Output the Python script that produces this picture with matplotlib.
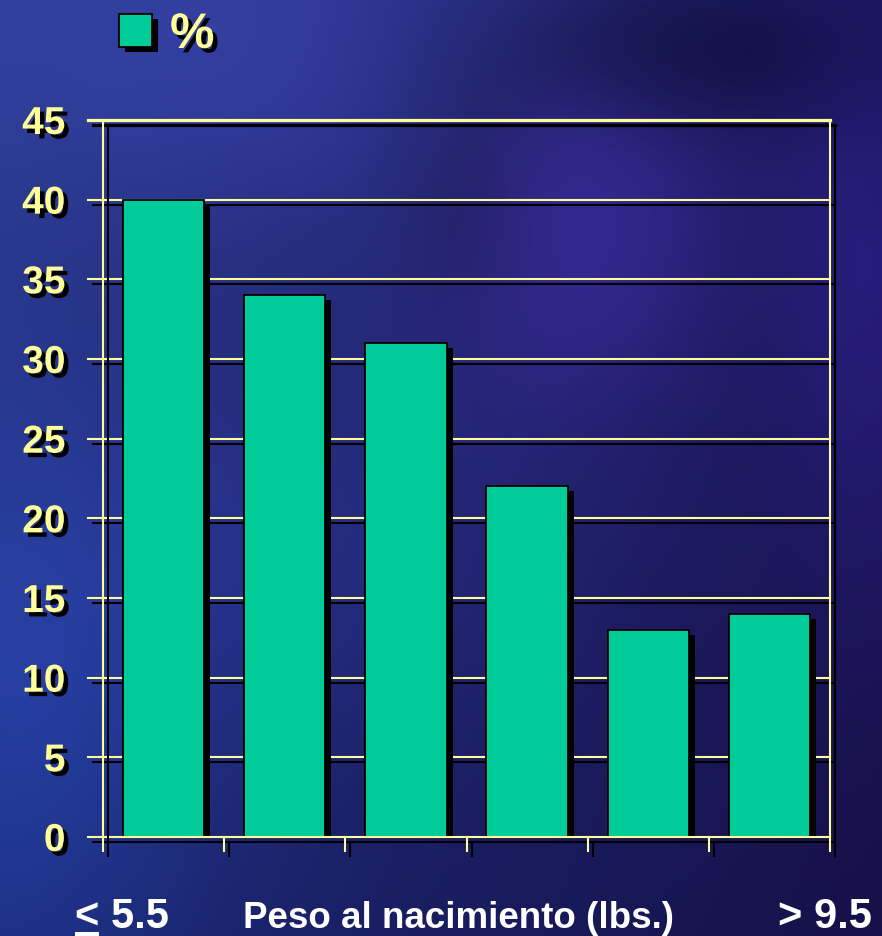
import numpy as np
import matplotlib
matplotlib.use("Agg")
import matplotlib.pyplot as plt
import matplotlib.patheffects as pe
from matplotlib.patches import Rectangle

# ---- data -------------------------------------------------------------
first_label = "< 5.5"
last_label = "> 9.5"
axis_title = "Peso al nacimiento (lbs.)"
series_name = "%"
values = [40, 34, 31, 22, 13, 14]
yticks = [0, 5, 10, 15, 20, 25, 30, 35, 40, 45]

# ---- style ------------------------------------------------------------
BAR = "#00CC99"
YEL = "#FFFF99"
FONT = "Liberation Sans"
W, H = 882, 936
DPI = 100

fig = plt.figure(figsize=(W / DPI, H / DPI), dpi=DPI)

# soft blue/purple backdrop
yy, xx = np.mgrid[0:H, 0:W].astype(float)
u, v = xx / W, yy / H
tl = np.array([44, 58, 142]); tr = np.array([30, 24, 98])
bl = np.array([28, 42, 118]); br = np.array([22, 16, 72])
img = ((1 - u)[..., None] * (1 - v)[..., None] * tl + u[..., None] * (1 - v)[..., None] * tr
       + (1 - u)[..., None] * v[..., None] * bl + u[..., None] * v[..., None] * br)
blobs = [
    (280, 40, 220, 120, (12, 14, 32)),
    (660, 50, 160, 60, (-16, -14, -40)),
    (570, 240, 100, 120, (20, 8, 38)),
    (470, 190, 60, 90, (-10, -10, -30)),
    (30, 700, 120, 200, (4, 16, 34)),
    (870, 300, 60, 200, (10, 6, 30)),
    (300, 560, 200, 120, (6, 6, 16)),
]
for cx, cy, sx, sy, d in blobs:
    g = np.exp(-((xx - cx) ** 2 / (2 * sx ** 2) + (yy - cy) ** 2 / (2 * sy ** 2)))
    img = img + g[..., None] * np.array(d)
img = np.clip(img, 0, 255) / 255.0
bg = fig.add_axes([0, 0, 1, 1], zorder=-10)
bg.imshow(img, aspect="auto", interpolation="bilinear")
bg.axis("off")

# ---- main axes --------------------------------------------------------
L, R, T, B = 103, 830, 120, 837
ax = fig.add_axes([L / W, 1 - B / H, (R - L) / W, (B - T) / H])
ax.patch.set_alpha(0)
for s in ax.spines.values():
    s.set_visible(False)

n = len(values)
ax.set_xlim(0, n)
ax.set_ylim(0, 45)

line_shadow = [pe.SimpleLineShadow(offset=(3.6, -3.6), shadow_color="black", alpha=1.0), pe.Normal()]
patch_shadow = [pe.SimplePatchShadow(offset=(4.4, -3.6), shadow_rgbFace="black", alpha=1.0), pe.Normal()]
text_shadow = [pe.SimplePatchShadow(offset=(3.2, -3.2), shadow_rgbFace="black", alpha=1.0), pe.Normal()]

tick_len_x = 15 / (R - L)
tick_len_y = 14 / (B - T)

# horizontal gridlines with outward tick stubs
for yv in yticks:
    lw = 2.3 if yv == yticks[-1] else 1.5
    z = 3 if yv == 0 else 1
    ln = ax.axhline(yv, xmin=-tick_len_x, xmax=1, color=YEL, lw=lw, clip_on=False, zorder=z)
    ln.set_path_effects(line_shadow)

# frame sides and category ticks
for xv in range(n + 1):
    ymax = 1 if xv in (0, n) else 0
    ln = ax.axvline(xv, ymin=-tick_len_y, ymax=ymax, color=YEL, lw=1.5, clip_on=False, zorder=3)
    ln.set_path_effects(line_shadow)

# bars
x = np.arange(n) + 0.5
bars = ax.bar(x, values, width=0.67, color=BAR, edgecolor="black", linewidth=1.3,
              zorder=2, label=series_name)
for b in bars:
    b.set_path_effects(patch_shadow)

ax.set_xticks([])
ax.set_yticks(yticks)
ax.tick_params(axis="y", length=0, pad=27)
for lbl in ax.get_yticklabels():
    lbl.set_fontfamily(FONT)
    lbl.set_fontweight("bold")
    lbl.set_fontsize(28)
    lbl.set_color(YEL)
    lbl.set_path_effects(text_shadow)

# legend
leg = fig.legend(handles=[bars], labels=[series_name], loc="upper left",
                 bbox_to_anchor=(119 / W, 1 - 12 / H), frameon=False, borderpad=0,
                 borderaxespad=0, handlelength=0.66, handleheight=0.66, handletextpad=0.36,
                 prop={"family": FONT, "weight": "bold", "size": 36})
for t in leg.get_texts():
    t.set_color(YEL)
    t.set_path_effects(text_shadow)

# bottom labels
base_y = 1 - 928 / H
tprops = dict(family=FONT, weight="bold", color="white", va="baseline")
fig.text(75 / W, base_y, first_label, ha="left", size=30, **tprops)
fig.text(243 / W, base_y, axis_title, ha="left", size=26.5, **tprops)
fig.text(872 / W, base_y, last_label, ha="right", size=30, **tprops)

# underline beneath the "<" sign (sits on the bottom edge)
fig.canvas.draw()
rend = fig.canvas.get_renderer()
probe = fig.text(75 / W, base_y, first_label.split()[0], ha="left", size=30, **tprops)
bb = probe.get_window_extent(rend)
probe.remove()
fig.patches.append(Rectangle((bb.x0, 0), bb.width, 4, transform=None,
                             facecolor="white", edgecolor="none", figure=fig))

fig.savefig("out.png", dpi=DPI)
